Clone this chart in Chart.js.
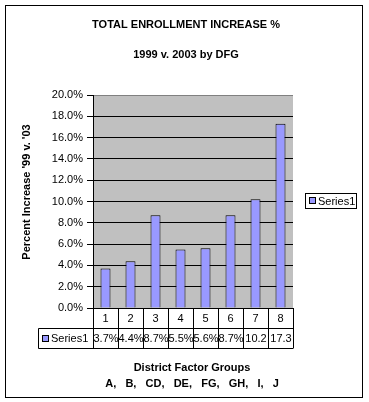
<!DOCTYPE html>
<html>
<head>
<meta charset="utf-8">
<script src="https://cdn.jsdelivr.net/npm/chart.js@4.4.1/dist/chart.umd.min.js"></script>
<style>
  html, body { margin: 0; padding: 0; background: #fff; }
  canvas { display: block; }
</style>
</head>
<body>
<canvas id="dfgChart" width="369" height="402"></canvas>
<script>
const categories = ["1", "2", "3", "4", "5", "6", "7", "8"];
const seriesName = "Series1";
const series1 = [3.7, 4.4, 8.7, 5.5, 5.6, 8.7, 10.2, 17.3];
const yTicks = [0, 2, 4, 6, 8, 10, 12, 14, 16, 18, 20];
const titleLines = ["TOTAL ENROLLMENT INCREASE %", "1999 v. 2003 by DFG"];
const yTitle = "Percent Increase '99 v. '03";
const xTitle = "District Factor Groups";
const dfgLabels = "A,   B,   CD,   DE,   FG,   GH,   I,   J";

const FONT = 'Arial, "Liberation Sans", sans-serif';
Chart.defaults.font.family = FONT;
Chart.defaults.font.size = 11;
Chart.defaults.color = "#000";

// frame, titles, data table and legend drawn around the chart area
const excelParts = {
  id: "excelParts",
  beforeDraw(chart) {
    const ctx = chart.ctx;
    const a = chart.chartArea;
    ctx.save();
    ctx.fillStyle = "#fff";
    ctx.fillRect(0, 0, chart.width, chart.height);
    ctx.fillStyle = "#c0c0c0";
    ctx.fillRect(a.left, a.top, a.right - a.left, a.bottom - a.top);
    ctx.restore();
  },
  afterDraw(chart) {
    const ctx = chart.ctx;
    const a = chart.chartArea;
    const x = chart.scales.x;
    ctx.save();

    // outer border
    ctx.strokeStyle = "#000";
    ctx.lineWidth = 1;
    ctx.strokeRect(5.5, 5.5, 357, 392);

    // titles
    ctx.fillStyle = "#000";
    ctx.textAlign = "center";
    ctx.textBaseline = "middle";
    ctx.font = "bold 11px " + FONT;
    ctx.fillText(titleLines[0], 186, 25);
    ctx.fillText(titleLines[1], 186, 55);

    ctx.save();
    ctx.translate(27, 192);
    ctx.rotate(-Math.PI / 2);
    ctx.fillText(yTitle, 0, 0);
    ctx.restore();

    ctx.fillText(xTitle, 192, 368);
    ctx.fillText(dfgLabels, 192, 384);

    // data table
    const step = x.getPixelForValue(1) - x.getPixelForValue(0);
    const row1 = a.bottom;
    const row2 = a.bottom + 20;
    const row3 = a.bottom + 40;
    const tblLeft = 38;
    ctx.beginPath();
    for (let i = 0; i <= categories.length; i++) {
      const px = Math.round(x.getPixelForValue(i) - step / 2) + 0.5;
      ctx.moveTo(px, row1);
      ctx.lineTo(px, row3);
    }
    ctx.moveTo(tblLeft + 0.5, row2 + 0.5);
    ctx.lineTo(a.right + 0.5, row2 + 0.5);
    ctx.moveTo(tblLeft + 0.5, row3 + 0.5);
    ctx.lineTo(a.right + 0.5, row3 + 0.5);
    ctx.moveTo(tblLeft + 0.5, row2 + 0.5);
    ctx.lineTo(tblLeft + 0.5, row3 + 0.5);
    ctx.stroke();

    // series key in table
    ctx.fillStyle = "#9999ff";
    ctx.fillRect(tblLeft + 4, row2 + 7, 7, 7);
    ctx.strokeRect(tblLeft + 4.5, row2 + 7.5, 6, 6);
    ctx.fillStyle = "#000";
    ctx.font = "11px " + FONT;
    ctx.textAlign = "left";
    ctx.fillText(seriesName, tblLeft + 13, row2 + 11);

    series1.forEach((v, i) => {
      const left = x.getPixelForValue(i) - step / 2;
      let s = v.toFixed(1) + "%";
      if (ctx.measureText(s).width > step + 1) s = v.toFixed(1);
      ctx.save();
      ctx.beginPath();
      ctx.rect(left + 1, row2 + 1, step - 1, 19);
      ctx.clip();
      ctx.textAlign = "center";
      ctx.fillText(s, left + step / 2 + 0.5, row2 + 11);
      ctx.restore();
    });

    // legend
    ctx.strokeRect(305.5, 193.5, 51, 15);
    ctx.fillStyle = "#9999ff";
    ctx.fillRect(309, 197, 7, 7);
    ctx.strokeRect(309.5, 197.5, 6, 6);
    ctx.fillStyle = "#000";
    ctx.textAlign = "left";
    ctx.fillText(seriesName, 318, 201.5);

    ctx.restore();
  }
};

new Chart(document.getElementById("dfgChart"), {
  type: "bar",
  data: {
    labels: categories,
    datasets: [{
      label: seriesName,
      data: series1,
      backgroundColor: "#9999ff",
      borderColor: "#000",
      borderWidth: 1,
      barPercentage: 0.4,
      categoryPercentage: 1.0
    }]
  },
  options: {
    responsive: false,
    devicePixelRatio: 1,
    animation: false,
    layout: { padding: { left: 0, top: 95, right: 76, bottom: 74 } },
    plugins: {
      legend: { display: false },
      title: { display: false },
      tooltip: { enabled: false }
    },
    scales: {
      x: {
        afterFit(scale) { scale.height = 20; },
        grid: { display: false, drawTicks: false },
        border: { display: false },
        ticks: { padding: 4, color: "#000", font: { size: 11 } }
      },
      y: {
        min: 0,
        max: 20,
        afterFit(scale) { scale.width = 93; },
        afterBuildTicks(scale) { scale.ticks = yTicks.map(v => ({ value: v })); },
        border: { display: true, color: "#000" },
        grid: {
          color: ctx => (ctx.tick && ctx.tick.value === 20 ? "#808080" : "#000"),
          tickLength: 6,
          tickColor: "#000"
        },
        ticks: {
          padding: 4,
          color: "#000",
          font: { size: 11 },
          callback: v => v.toFixed(1) + "%"
        }
      }
    }
  },
  plugins: [excelParts]
});
</script>
</body>
</html>
